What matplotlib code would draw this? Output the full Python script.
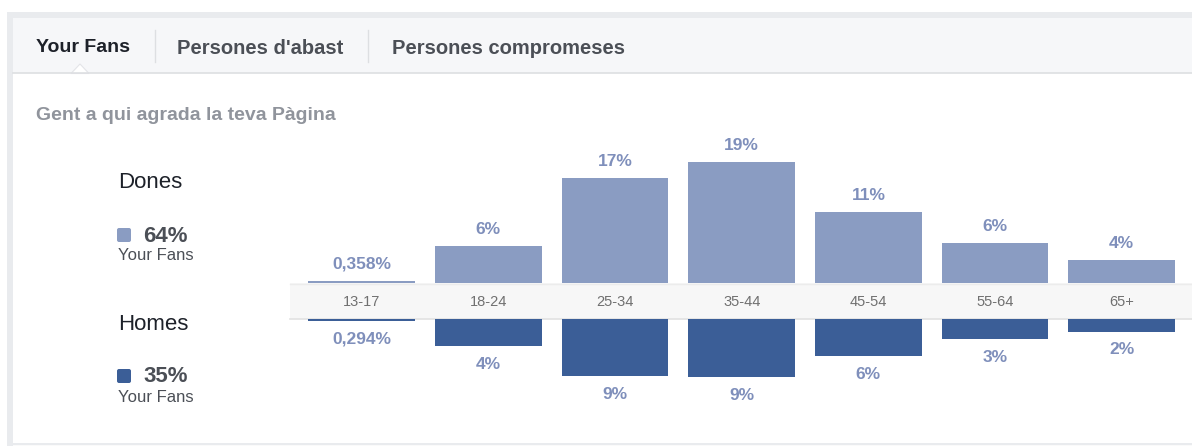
import matplotlib.pyplot as plt
from matplotlib.patches import Rectangle, FancyBboxPatch, Polygon

plt.rcParams['font.family'] = ['Liberation Sans', 'DejaVu Sans']

# age groups and share of fans (percent)
ages = ["13-17", "18-24", "25-34", "35-44", "45-54", "55-64", "65+"]
women = [0.358, 5.8, 16.5, 19.05, 11.2, 6.3, 3.6]
men = [0.294, 4.25, 9.0, 9.2, 5.9, 3.2, 2.0]
women_labels = ["0,358%", "6%", "17%", "19%", "11%", "6%", "4%"]
men_labels = ["0,294%", "4%", "9%", "9%", "6%", "3%", "2%"]

tabs = ["Your Fans", "Persones d'abast", "Persones compromeses"]
women_total = "64%"
men_total = "35%"

C_WOMEN = "#8a9cc2"
C_MEN = "#3b5e97"
C_LABEL = "#7f8fbb"

W, H = 1192, 446
fig = plt.figure(figsize=(W / 100, H / 100), dpi=100)

# background / page chrome, drawn in pixel coordinates
bg = fig.add_axes([0, 0, 1, 1])
bg.set_xlim(0, W)
bg.set_ylim(H, 0)
bg.axis("off")

bg.add_patch(Rectangle((7, 12), W, H, color="#e9ebee", lw=0))
bg.add_patch(Rectangle((13, 18), W, 425, color="white", lw=0))
bg.add_patch(Rectangle((13, 445), W, 2, color="#fafafa", lw=0))
# tab bar
bg.add_patch(Rectangle((13, 18), W, 55, color="#f6f7f9", lw=0))
bg.plot([13, W], [73, 73], color="#dddfe2", lw=1.2)
bg.add_patch(Polygon([[71, 73.5], [80, 64], [89, 73.5]], closed=True,
                     facecolor="white", edgecolor="#e3e4e8", lw=0.8))
for x in (155, 368):
    bg.plot([x, x], [30, 62], color="#dddfe2", lw=1)

tab_x = [36, 177, 392]
for i, (t, x) in enumerate(zip(tabs, tab_x)):
    bg.text(x, 48, t, fontsize=14 if i == 0 else 14.5, fontweight="bold",
            va="center", color="#1d2129" if i == 0 else "#4b4f56")

bg.text(36, 115, "Gent a qui agrada la teva Pàgina", fontsize=14,
        fontweight="bold", color="#90949c", va="center")

# left legend
for name, total, color, y0 in [("Dones", women_total, C_WOMEN, 181),
                               ("Homes", men_total, C_MEN, 322)]:
    bg.text(118, y0 + 2, name, fontsize=16, color="#1d2129", va="center")
    bg.add_patch(FancyBboxPatch((118, y0 + 48), 12, 12,
                                boxstyle="round,pad=1,rounding_size=2",
                                color=color, lw=0))
    bg.text(143, y0 + 55, total, fontsize=16, fontweight="bold",
            color="#4b4f56", va="center")
    bg.text(118, y0 + 75, "Your Fans", fontsize=12, color="#4b4f56",
            va="center")

# axis band with the age labels
bg.add_patch(Rectangle((290, 283), W - 290, 36, facecolor="#f7f7f7",
                       edgecolor="none"))
bg.plot([290, W], [283.5, 283.5], color="#ececec", lw=1)
bg.plot([290, W], [318.5, 318.5], color="#e2e2e2", lw=1.2)

# bar axes
step = 126.67
left = 361.7 - step / 2
width = step * 7
px_per_pct = 6.35

ax_top = fig.add_axes([left / W, (H - 283) / H, width / W, 150 / H])
ax_bot = fig.add_axes([left / W, (H - 440) / H, width / W, 121 / H])
for ax in (ax_top, ax_bot):
    ax.set_xlim(-0.5, 6.5)
    ax.axis("off")
    ax.patch.set_alpha(0)
ax_top.set_ylim(0, 150 / px_per_pct)
ax_bot.set_ylim(121 / px_per_pct, 0)

x = list(range(len(ages)))
ax_top.bar(x, women, width=0.842, color=C_WOMEN)
ax_bot.bar(x, men, width=0.842, color=C_MEN)

for i in x:
    ax_top.annotate(women_labels[i], (i, women[i]), xytext=(0, 12),
                    textcoords="offset points", ha="center", va="center",
                    fontsize=12.5, fontweight="bold", color=C_LABEL)
    ax_bot.annotate(men_labels[i], (i, men[i]), xytext=(0, -13),
                    textcoords="offset points", ha="center", va="center",
                    fontsize=12.5, fontweight="bold", color=C_LABEL)
    ax_top.annotate(ages[i], (i, 0), xytext=(0, -13.5),
                    textcoords="offset points", ha="center", va="center",
                    fontsize=10.5, color="#707070")

fig.savefig("out.png", dpi=100)
